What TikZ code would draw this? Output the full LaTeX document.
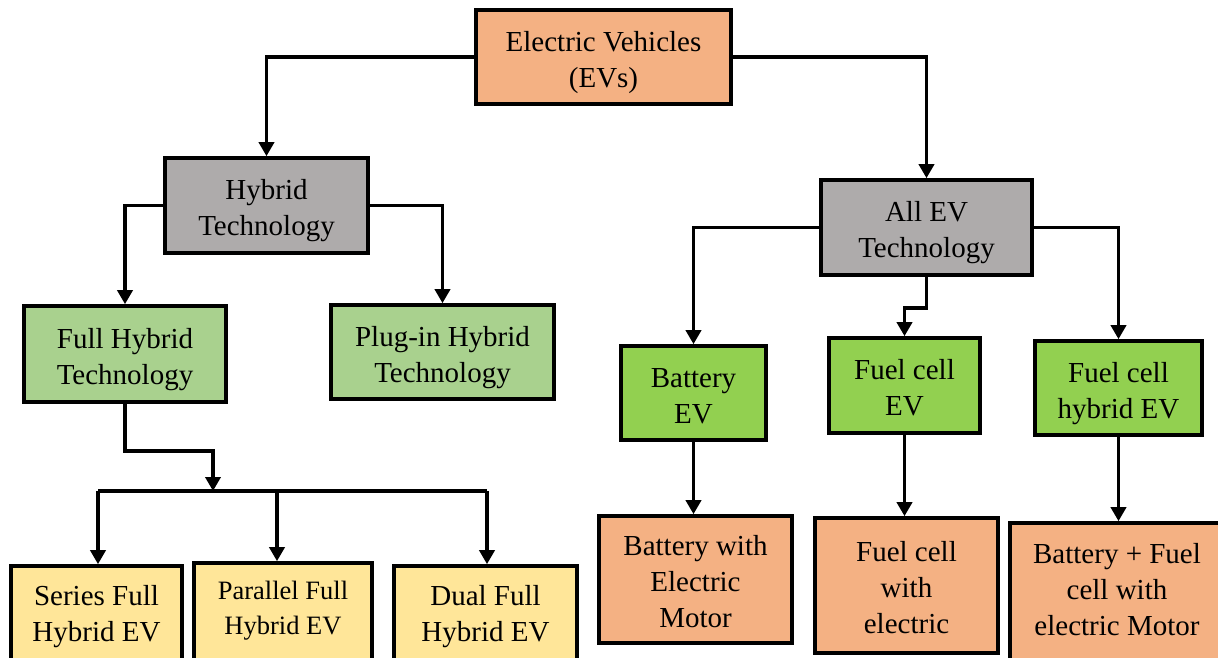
\documentclass[tikz,border=0pt]{standalone}
\usepackage{fontspec}
\setmainfont{Liberation Serif}
\usetikzlibrary{arrows.meta,calc}
\definecolor{evorange}{HTML}{F4B183}
\definecolor{evgray}{HTML}{AEABAB}
\definecolor{lightgreen}{HTML}{A9D18E}
\definecolor{brightgreen}{HTML}{92D050}
\definecolor{paleyellow}{HTML}{FFE699}
\begin{document}
\begin{tikzpicture}[x=1pt,y=-1pt,
  box/.style={draw=black, line width=3.6pt, fill=#1, align=center, inner sep=0pt,
    font=\fontsize{29}{36}\selectfont},
  txt/.style={align=center, inner sep=0pt, font=\fontsize{29}{36}\selectfont},
  smalltxt/.style={align=center, inner sep=0pt, font=\fontsize{26.5}{35}\selectfont,
    text height=66pt, text depth=7pt},
  twolines/.style={text height=67pt, text depth=7pt},
  threelines/.style={text height=103pt, text depth=7pt},
  conn/.style={line width=3.5pt, -{Triangle[length=14pt,width=15pt]}},
  wire/.style={line width=3.5pt}]
\useasboundingbox (0,0) rectangle (1218,657);
\clip (0,0) rectangle (1218,657);

% top level
\node[box=evorange, twolines, minimum width=255pt, minimum height=94pt] (ev) at (603.5,57) {Electric Vehicles\\(EVs)};

% hybrid branch
\node[box=evgray, twolines, minimum width=203pt, minimum height=95pt] (hyb) at (266.5,205.5) {Hybrid\\Technology};
\node[box=lightgreen, twolines, minimum width=202pt, minimum height=96pt] (full) at (125,354) {Full Hybrid\\Technology};
\node[box=lightgreen, twolines, minimum width=223pt, minimum height=94pt] (plug) at (442.5,352) {Plug-in Hybrid\\Technology};

\node[box=paleyellow, minimum width=171pt, minimum height=104pt] (series) at (96.5,618) {};
\node[txt, twolines] (series-t) at (96.5,611.7) {Series Full\\Hybrid EV};
\node[box=paleyellow, minimum width=178pt, minimum height=107pt] (parallel) at (283,616.5) {};
\node[smalltxt] (parallel-t) at (283,605.3) {Parallel Full\\Hybrid EV};
\node[box=paleyellow, minimum width=183pt, minimum height=104pt] (dual) at (485.5,618) {};
\node[txt, twolines] (dual-t) at (485.5,611.7) {Dual Full\\Hybrid EV};

% all EV branch
\node[box=evgray, twolines, minimum width=211pt, minimum height=95pt] (allev) at (926.5,227.5) {All EV\\Technology};
\node[box=brightgreen, twolines, minimum width=145pt, minimum height=94pt] (bev) at (693.5,393) {Battery\\EV};
\node[box=brightgreen, twolines, minimum width=151pt, minimum height=95pt] (fcev) at (904.5,385.5) {Fuel cell\\EV};
\node[box=brightgreen, twolines, minimum width=167pt, minimum height=94pt] (fchev) at (1118.5,388) {Fuel cell\\hybrid EV};

\node[box=evorange, threelines, minimum width=193pt, minimum height=127pt] (bwem) at (695.5,579.5) {Battery with\\Electric\\Motor};
\node[box=evorange, threelines, minimum width=183pt, minimum height=135pt] (fcwe) at (906.5,585.5) {Fuel cell\\with\\electric};
\node[box=evorange, minimum width=220pt, minimum height=147pt] (bfc) at (1120,596.5) {};
\node[txt, threelines] (bfc-t) at (1117,587.7) {Battery + Fuel\\cell with\\electric Motor};

% bus coordinates
\coordinate (join) at (213,491);
\coordinate (busL) at (98,491);
\coordinate (busM) at (277,491);
\coordinate (busR) at (487,491);

% connectors
\draw[conn] (ev.west) -| (hyb.north);
\draw[conn] (ev.east) -| (allev.north);
\draw[conn] (hyb.west) -| (full.north);
\draw[conn] (hyb.east) -| (plug.north);
\draw[conn] (full.south) -- ++(0,47) -| (join);
\draw[wire] (busL) -- (busR);
\draw[conn] (busL) -- (busL |- series.north);
\draw[conn] (busM) -- (busM |- parallel.north);
\draw[conn] (busR) -- (busR |- dual.north);

\draw[conn] (allev.west) -| (bev.north);
\draw[conn] (allev.east) -| (fchev.north);
\draw[conn] (allev.south) -- ++(0,31) -| (fcev.north);

\draw[conn] (bev.south) -- (bev.south |- bwem.north);
\draw[conn] (fcev.south) -- (fcev.south |- fcwe.north);
\draw[conn] (fchev.south) -- (fchev.south |- bfc.north);
\end{tikzpicture}
\end{document}
